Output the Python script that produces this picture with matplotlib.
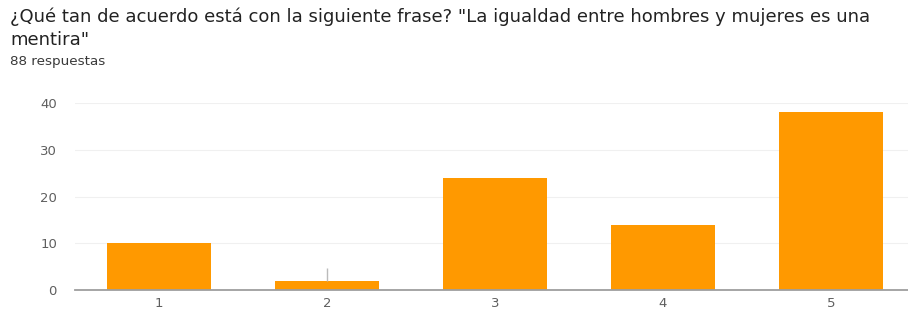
import matplotlib
matplotlib.use("Agg")
import matplotlib.pyplot as plt

categories = ["1", "2", "3", "4", "5"]
values = [10, 2, 24, 14, 38]
yticks = [0, 10, 20, 30, 40]
title_line1 = '¿Qué tan de acuerdo está con la siguiente frase? "La igualdad entre hombres y mujeres es una'
title_line2 = 'mentira"'
subtitle = "88 respuestas"

plt.rcParams['font.family'] = ['DejaVu Sans']

W, H = 908, 311
fig = plt.figure(figsize=(W / 100, H / 100), dpi=100)
fig.patch.set_facecolor("white")

left = 75 / W
right = 915 / W
bottom = 1 - 290 / H
top = 1 - 103 / H
ax = fig.add_axes([left, bottom, right - left, top - bottom])

x = list(range(len(categories)))
ax.bar(x, values, width=0.615, color="#ff9900", zorder=3)
ax.vlines(x[1], values[1], values[1] + 2.7, color="#bbbbbb", lw=1, zorder=4)

ax.set_xlim(-0.5, 4.5)
ax.set_ylim(0, 40)
ax.set_yticks(yticks)
ax.set_yticklabels([str(v) for v in yticks])
ax.set_xticks(x)
ax.set_xticklabels(categories)
ax.tick_params(axis="both", length=0, labelsize=9.5, colors="#5f5f5f")
ax.tick_params(axis="y", pad=13)
ax.tick_params(axis="x", pad=5)
ax.grid(axis="y", color="#f0f0f0", lw=0.8, zorder=0)
for s in ["top", "right", "left"]:
    ax.spines[s].set_visible(False)
ax.spines["bottom"].set_color("#9e9e9e")
ax.spines["bottom"].set_linewidth(1.3)
ax.spines["bottom"].set_zorder(5)

fig.text(10 / W, 1 - 17 / H, title_line1, fontsize=13.0, color="#222222", va="center", ha="left")
fig.text(10 / W, 1 - 40 / H, title_line2, fontsize=13.0, color="#222222", va="center", ha="left")
fig.text(10 / W, 1 - 62 / H, subtitle, fontsize=9.7, color="#3a3a3a", va="center", ha="left")

fig.savefig("out.png", dpi=100, facecolor="white")
